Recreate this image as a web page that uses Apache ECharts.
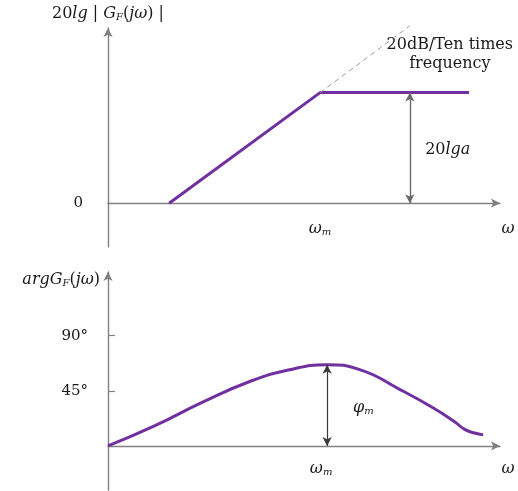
<!DOCTYPE html>
<html><head><meta charset="utf-8">
<script src="https://cdn.jsdelivr.net/npm/echarts@6/dist/echarts.min.js"></script>
<style>html,body{margin:0;padding:0;background:#fff}#c{width:518px;height:491px}</style>
</head><body><div id="c"></div>
<script>
// amplitude (Bode magnitude asymptote)
const ampX = [15.6, 54.1, 92.1];
const ampY = [0, 10.1, 10.1];
// dashed continuation of the +20dB/dec slope
const asymX = [54.1, 77];
const asymY = [10.1, 16.2];
const ampArrowX = 77;          // position of the 20lga double arrow
const omegaMX = 54.1;          // ω_m
// phase curve
const phaseX = [0, 12, 24, 36, 46, 55.9, 64, 74.5, 83, 88.5, 91, 93.5, 95.7];
const phaseY = [0, 16.5, 35.5, 52.4, 62, 66.3, 62.5, 46, 31, 19.5, 13.5, 10.5, 9];
const phaseMax = 66.3;
const phaseTicks = [45, 90];
const ampTicks = [0];

const FONT = 'DejaVu Serif';
const PURPLE = '#7030A0';
const AXIS = '#808080';
const TXT = '#1a1a1a';

const chart = echarts.init(document.getElementById('c'), null, {renderer: 'canvas'});

function xAx(gi) {
  return {
    type: 'value', gridIndex: gi, min: 0, max: 100,
    axisLine: {show: true, onZero: true, symbol: ['none', 'arrow'], symbolSize: [7, 9],
      lineStyle: {color: AXIS, width: 1.4}},
    axisTick: {show: false}, axisLabel: {show: false}, splitLine: {show: false}
  };
}

const option = {
  animation: false,
  backgroundColor: '#fff',
  grid: [
    {left: 108, right: 18, top: 28, height: 219},
    {left: 108, right: 18, top: 272, height: 218}
  ],
  xAxis: [xAx(0), xAx(1)],
  yAxis: [
    {
      type: 'value', gridIndex: 0, min: -4, max: 16,
      axisLine: {show: true, onZero: true, symbol: ['none', 'arrow'], symbolSize: [7, 9],
        lineStyle: {color: AXIS, width: 1.4}},
      axisTick: {show: false},
      axisLabel: {show: true, customValues: ampTicks, margin: 25,
        fontFamily: FONT, fontSize: 15, color: TXT},
      splitLine: {show: false}
    },
    {
      type: 'value', gridIndex: 1, min: -36, max: 142,
      axisLine: {show: true, onZero: true, symbol: ['none', 'arrow'], symbolSize: [7, 9],
        lineStyle: {color: AXIS, width: 1.4}},
      axisTick: {show: true, customValues: phaseTicks, inside: true, length: 7,
        lineStyle: {color: AXIS, width: 1.2}},
      axisLabel: {show: true, customValues: phaseTicks, margin: 20,
        formatter: '{value}°', fontFamily: FONT, fontSize: 15, color: TXT},
      splitLine: {show: false}
    }
  ],
  series: [
    {
      type: 'line', xAxisIndex: 0, yAxisIndex: 0, symbol: 'none', clip: false,
      data: ampX.map((x, i) => [x, ampY[i]]),
      lineStyle: {color: PURPLE, width: 3},
      markLine: {
        silent: true, symbol: ['arrow', 'arrow'], symbolSize: [7, 9],
        label: {show: false},
        lineStyle: {color: '#6a6a6a', width: 1.4, type: 'solid'},
        data: [[{coord: [ampArrowX, 0]}, {coord: [ampArrowX, ampY[1]]}]]
      }
    },
    {
      type: 'line', xAxisIndex: 0, yAxisIndex: 0, symbol: 'none', clip: false,
      data: asymX.map((x, i) => [x, asymY[i]]),
      lineStyle: {color: '#999', width: 1, type: [5, 4]}
    },
    {
      type: 'line', xAxisIndex: 1, yAxisIndex: 1, symbol: 'none', smooth: 0.5,
      data: phaseX.map((x, i) => [x, phaseY[i]]),
      lineStyle: {color: PURPLE, width: 3},
      markLine: {
        silent: true, symbol: ['arrow', 'arrow'], symbolSize: [7, 9],
        label: {show: false},
        lineStyle: {color: '#3a3a3a', width: 1.2, type: 'solid'},
        data: [[{coord: [omegaMX + 1.8, 0]}, {coord: [omegaMX + 1.8, phaseMax]}]]
      }
    }
  ]
};
chart.setOption(option);

const px = (gi, v) => chart.convertToPixel({gridIndex: gi}, v);
const richBase = {
  n: {fontFamily: FONT, fontSize: 16, fill: TXT, color: TXT},
  i: {fontFamily: FONT, fontSize: 16, fontStyle: 'italic', fill: TXT, color: TXT},
  s: {fontFamily: FONT, fontSize: 10, fontStyle: 'italic', fill: TXT, color: TXT, verticalAlign: 'bottom', padding: [6, 0, 0, 0]}
};
function txt(x, y, text, align, vAlign, size, lh) {
  const st = {text: text, rich: richBase, fontFamily: FONT, fontSize: size || 16, fill: TXT,
      align: align || 'center', verticalAlign: vAlign || 'middle'};
  if (lh) st.lineHeight = lh;
  return {type: 'text', x: x, y: y, silent: true, style: st};
}
const yTop0 = px(0, [0, 16]);
const yTop1 = px(1, [0, 142]);
const xEnd0 = px(0, [100, 0]);
const xEnd1 = px(1, [100, 0]);
const wm0 = px(0, [omegaMX, 0]);
const wm1 = px(1, [omegaMX + 1.8, 0]);
const a20 = px(0, [80.9, 4.9]);
const dec = px(0, [87.2, 13.6]);
const phiL = px(1, [62.5, 31]);

chart.setOption({
  graphic: [
    txt(yTop0[0], yTop0[1] - 14, '{n|20}{i|lg}{n| | }{i|G}{s|F}{n|(}{i|jω}{n|) |}'),
    txt(yTop1[0] - 8, yTop1[1] + 8, '{i|argG}{s|F}{n|(}{i|jω}{n|)}', 'right'),
    txt(dec[0], dec[1], '20dB/Ten times\nfrequency', 'center', 'middle', 16, 19),
    txt(a20[0], a20[1], '{n|20}{i|lga}', 'left'),
    txt(wm0[0], wm0[1] + 26, '{i|ω}{s|m}'),
    txt(wm1[0] - 6, wm1[1] + 23, '{i|ω}{s|m}'),
    txt(xEnd0[0] + 8, xEnd0[1] + 26, '{i|ω}', 'center'),
    txt(xEnd1[0] + 8, xEnd1[1] + 23, '{i|ω}', 'center'),
    txt(phiL[0], phiL[1], '{i|φ}{s|m}', 'left')
  ]
});
</script></body></html>
